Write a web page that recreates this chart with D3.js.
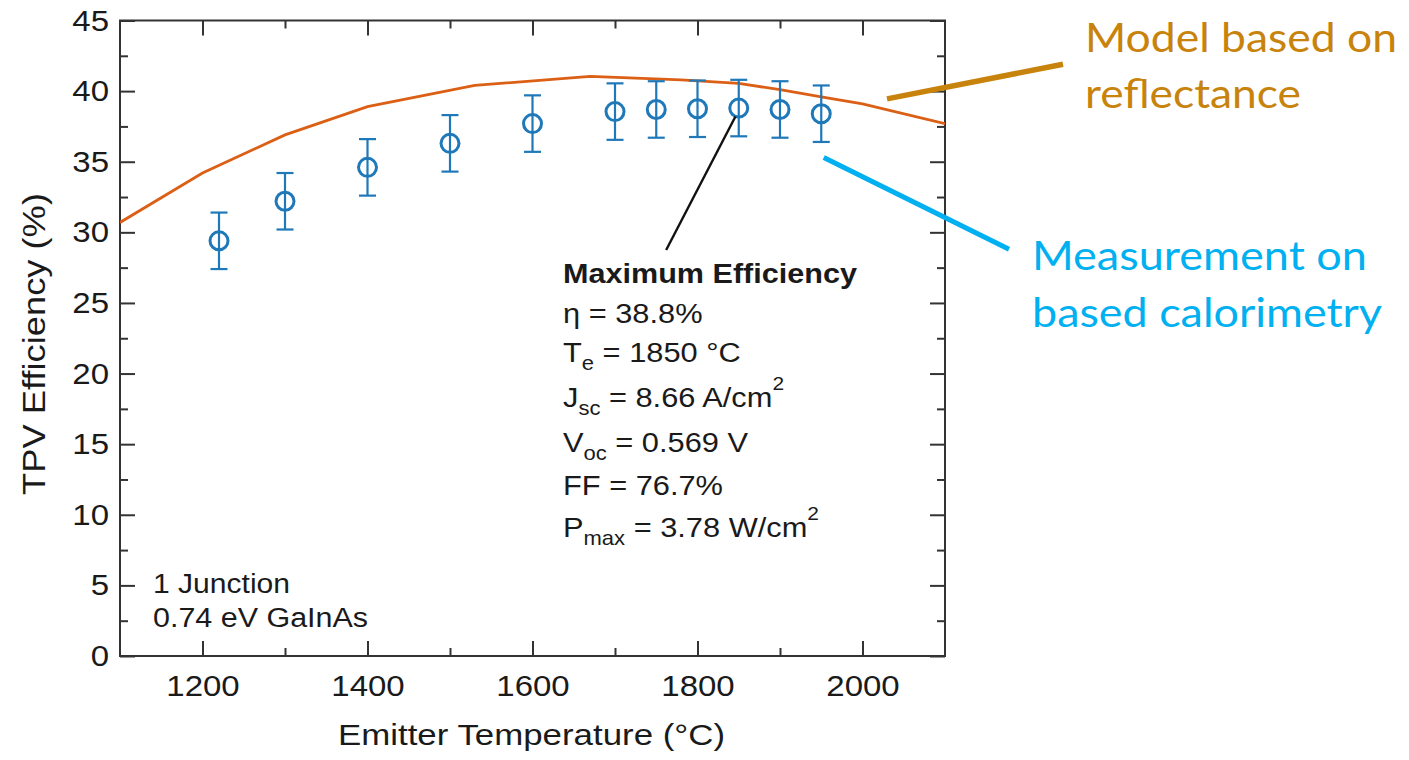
<!DOCTYPE html>
<html>
<head>
<meta charset="utf-8">
<script src="https://cdn.jsdelivr.net/npm/d3@7"></script>
<style>
  body { margin: 0; background: #fff; }
  svg { display: block; }
</style>
</head>
<body>
<svg id="chart" width="1409" height="760"></svg>
<script>
// measured TPV efficiency (calorimetry) with error bars
var tempC = [1220, 1300, 1400, 1500, 1600, 1700, 1750, 1800, 1850, 1900, 1950];
var effMeas = [29.4, 32.2, 34.6, 36.3, 37.7, 38.55, 38.7, 38.75, 38.8, 38.7, 38.4];
var effErr = [2, 2, 2, 2, 2, 2, 2, 2, 2, 2, 2];

// model based on reflectance
var modelT = [1100, 1200, 1300, 1400, 1530, 1670, 1780, 1850, 1900, 1950, 2000, 2100];
var modelEff = [30.7, 34.2, 36.9, 38.9, 40.4, 41.05, 40.8, 40.55, 40.1, 39.6, 39.1, 37.7];

// ticks
var xMajor = [1200, 1400, 1600, 1800, 2000];
var xMinor = [1300, 1500, 1700, 1900];
var yMajor = [0, 5, 10, 15, 20, 25, 30, 35, 40, 45];
var yMinor = [2.5, 7.5, 12.5, 17.5, 22.5, 27.5, 32.5, 37.5, 42.5];

var infoTitle = 'Maximum Efficiency';
var infoLines = [
  [{t: 'η = 38.8%'}],
  [{t: 'T'}, {t: 'e', sub: true}, {t: ' = 1850 °C'}],
  [{t: 'J'}, {t: 'sc', sub: true}, {t: ' = 8.66 A/cm'}, {t: '2', sup: true}],
  [{t: 'V'}, {t: 'oc', sub: true}, {t: ' = 0.569 V'}],
  [{t: 'FF = 76.7%'}],
  [{t: 'P'}, {t: 'max', sub: true}, {t: ' = 3.78 W/cm'}, {t: '2', sup: true}]
];

var svg = d3.select('#chart');
var pLeft = 120, pRight = 945, pTop = 20.5, pBottom = 656;
var arial = '"Liberation Sans", Arial, sans-serif';
var calibri = 'Lato, "Open Sans", sans-serif';
var sx = 1.1;

var x = d3.scaleLinear().domain([1100, 2100]).range([pLeft, pRight]);
var y = d3.scaleLinear().domain([0, 45]).range([pBottom, pTop]);

var blue = '#1f78b8';
var orange = '#db6016';

// clip for the model line
svg.append('defs').append('clipPath').attr('id', 'plotclip')
  .append('rect').attr('x', pLeft).attr('y', pTop)
  .attr('width', pRight - pLeft).attr('height', pBottom - pTop);

// axes (ticks pointing inward on all four sides)
function styleAxis(g) {
  g.select('.domain').remove();
  g.selectAll('.tick line').attr('stroke', '#333').attr('stroke-width', 2);
  g.selectAll('.tick text')
    .style('font-family', arial).style('font-size', '30px').attr('fill', '#1a1a1a');
}

svg.append('g').attr('transform', `translate(0,${pBottom})`)
  .call(d3.axisBottom(x).tickValues(xMajor).tickSize(-15).tickPadding(19).tickFormat(d3.format('d')))
  .call(styleAxis)
  .selectAll('.tick text').attr('transform', `scale(${sx},1)`);
svg.append('g').attr('transform', `translate(0,${pBottom})`)
  .call(d3.axisBottom(x).tickValues(xMinor).tickSize(-8).tickFormat(''))
  .call(styleAxis);
svg.append('g').attr('transform', `translate(0,${pTop})`)
  .call(d3.axisTop(x).tickValues(xMajor).tickSize(-15).tickFormat(''))
  .call(styleAxis);
svg.append('g').attr('transform', `translate(0,${pTop})`)
  .call(d3.axisTop(x).tickValues(xMinor).tickSize(-8).tickFormat(''))
  .call(styleAxis);

svg.append('g').attr('transform', `translate(${pLeft},0)`)
  .call(d3.axisLeft(y).tickValues(yMajor).tickSize(-15).tickPadding(10))
  .call(styleAxis)
  .selectAll('.tick text').attr('transform', `scale(${sx},1)`);
svg.append('g').attr('transform', `translate(${pLeft},0)`)
  .call(d3.axisLeft(y).tickValues(yMinor).tickSize(-8).tickFormat(''))
  .call(styleAxis);
svg.append('g').attr('transform', `translate(${pRight},0)`)
  .call(d3.axisRight(y).tickValues(yMajor).tickSize(-15).tickFormat(''))
  .call(styleAxis);
svg.append('g').attr('transform', `translate(${pRight},0)`)
  .call(d3.axisRight(y).tickValues(yMinor).tickSize(-8).tickFormat(''))
  .call(styleAxis);

// frame
svg.append('rect')
  .attr('x', pLeft).attr('y', pTop)
  .attr('width', pRight - pLeft).attr('height', pBottom - pTop)
  .attr('fill', 'none').attr('stroke', '#333').attr('stroke-width', 2);

// model line
var line = d3.line().x((d, i) => x(modelT[i])).y(d => y(d));
svg.append('path')
  .datum(modelEff)
  .attr('d', line)
  .attr('clip-path', 'url(#plotclip)')
  .attr('fill', 'none')
  .attr('stroke', orange)
  .attr('stroke-width', 2.8);

// measured points with error bars
var pts = svg.append('g').selectAll('g')
  .data(tempC.map((t, i) => ({t: t, v: effMeas[i], e: effErr[i]})))
  .enter().append('g')
  .attr('stroke', blue).attr('fill', 'none');
pts.append('line')
  .attr('x1', d => x(d.t)).attr('x2', d => x(d.t))
  .attr('y1', d => y(d.v + d.e)).attr('y2', d => y(d.v - d.e))
  .attr('stroke-width', 2.2);
pts.append('line')
  .attr('x1', d => x(d.t) - 8.5).attr('x2', d => x(d.t) + 8.5)
  .attr('y1', d => y(d.v + d.e)).attr('y2', d => y(d.v + d.e))
  .attr('stroke-width', 2.2);
pts.append('line')
  .attr('x1', d => x(d.t) - 8.5).attr('x2', d => x(d.t) + 8.5)
  .attr('y1', d => y(d.v - d.e)).attr('y2', d => y(d.v - d.e))
  .attr('stroke-width', 2.2);
pts.append('circle')
  .attr('cx', d => x(d.t)).attr('cy', d => y(d.v))
  .attr('r', 9)
  .attr('fill', 'white')
  .attr('stroke-width', 3);
// error bar drawn through the circle as in the reference
pts.append('line')
  .attr('x1', d => x(d.t)).attr('x2', d => x(d.t))
  .attr('y1', d => y(d.v) - 9.5).attr('y2', d => y(d.v) + 9.5)
  .attr('stroke-width', 2.2);

// pointer to maximum efficiency point
svg.append('line')
  .attr('x1', x(1762)).attr('y1', y(28.75))
  .attr('x2', x(1846)).attr('y2', y(38.2))
  .attr('stroke', '#111').attr('stroke-width', 2.4);

// axis titles
svg.append('text')
  .attr('x', 531.5).attr('y', 745)
  .attr('text-anchor', 'middle')
  .attr('textLength', 387).attr('lengthAdjust', 'spacingAndGlyphs')
  .style('font-family', arial).style('font-size', '30px').attr('fill', '#1a1a1a')
  .text('Emitter Temperature (°C)');
svg.append('text')
  .attr('transform', 'translate(45,344) rotate(-90)')
  .attr('text-anchor', 'middle')
  .attr('textLength', 302).attr('lengthAdjust', 'spacingAndGlyphs')
  .style('font-family', arial).style('font-size', '31px').attr('fill', '#1a1a1a')
  .text('TPV Efficiency (%)');

// cell description
svg.append('text')
  .attr('x', 153).attr('y', 592.7)
  .attr('textLength', 137).attr('lengthAdjust', 'spacingAndGlyphs')
  .style('font-family', arial).style('font-size', '27px').attr('fill', '#1a1a1a')
  .text('1 Junction');
svg.append('text')
  .attr('x', 153).attr('y', 626.7)
  .attr('textLength', 215).attr('lengthAdjust', 'spacingAndGlyphs')
  .style('font-family', arial).style('font-size', '27px').attr('fill', '#1a1a1a')
  .text('0.74 eV GaInAs');

// maximum efficiency box
svg.append('text')
  .attr('x', 563).attr('y', 283)
  .attr('textLength', 294).attr('lengthAdjust', 'spacingAndGlyphs')
  .style('font-family', arial).style('font-size', '28px').style('font-weight', 'bold')
  .attr('fill', '#1a1a1a')
  .text(infoTitle);

var lineBase = [322.7, 361.7, 406.7, 451.7, 495, 536.7];
infoLines.forEach(function(parts, i) {
  var t = svg.append('text')
    .attr('transform', `translate(563,${lineBase[i]}) scale(${sx},1)`)
    .style('font-family', arial).style('font-size', '28px').attr('fill', '#1a1a1a');
  var cur = 0;
  parts.forEach(function(p) {
    var target = p.sub ? 8 : (p.sup ? -17 : 0);
    var ts = t.append('tspan').attr('dy', target - cur).text(p.t);
    if (p.sub) ts.style('font-size', '20px');
    if (p.sup) ts.style('font-size', '19px').attr('dx', 0);
    cur = target;
  });
});

// callouts outside the plot
svg.append('line')
  .attr('x1', x(2029.7)).attr('y1', y(39.45))
  .attr('x2', x(2243)).attr('y2', y(41.9))
  .attr('stroke', '#c8830c').attr('stroke-width', 5.5);
svg.append('line')
  .attr('x1', x(1953)).attr('y1', y(35.3))
  .attr('x2', x(2177.6)).attr('y2', y(28.8))
  .attr('stroke', '#00b0f0').attr('stroke-width', 5);

var callouts = [
  {t: 'Model based on', x: 1085, y: 51.7, w: 312, c: '#c8830c'},
  {t: 'reflectance', x: 1085, y: 108.3, w: 216, c: '#c8830c'},
  {t: 'Measurement on', x: 1032, y: 270, w: 335, c: '#00b0f0'},
  {t: 'based calorimetry', x: 1032, y: 326.7, w: 350, c: '#00b0f0'}
];
callouts.forEach(function(d) {
  svg.append('text')
    .attr('x', d.x).attr('y', d.y)
    .attr('textLength', d.w).attr('lengthAdjust', 'spacingAndGlyphs')
    .style('font-family', calibri).style('font-size', '41px')
    .attr('fill', d.c)
    .text(d.t);
});
</script>
</body>
</html>
